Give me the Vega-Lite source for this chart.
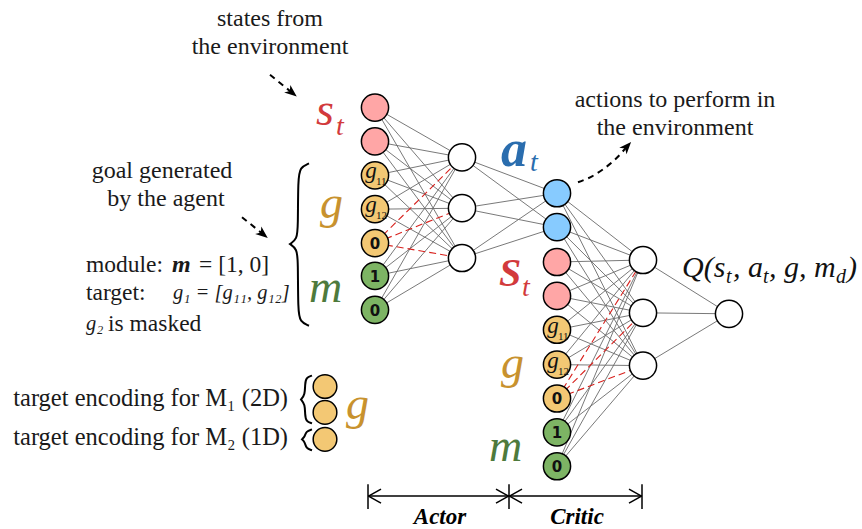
{
  "$schema": "https://vega.github.io/schema/vega-lite/v6.json",
  "width": 862,
  "height": 529,
  "padding": 0,
  "autosize": {"type": "fit", "contains": "padding"},
  "background": "white",
  "config": {"view": {"stroke": null}, "text": {"font": "Liberation Serif"}},
  "datasets": {
    "nodes": [
      {"id": "i1", "x": 375, "y": 108, "kind": "s"},
      {"id": "i2", "x": 375, "y": 142, "kind": "s"},
      {"id": "i3", "x": 375, "y": 176, "kind": "g"},
      {"id": "i4", "x": 375, "y": 210, "kind": "g"},
      {"id": "i5", "x": 375, "y": 244, "kind": "g"},
      {"id": "i6", "x": 375, "y": 277, "kind": "m"},
      {"id": "i7", "x": 375, "y": 311, "kind": "m"},
      {"id": "h1", "x": 462, "y": 158, "kind": "h"},
      {"id": "h2", "x": 462, "y": 209, "kind": "h"},
      {"id": "h3", "x": 462, "y": 259, "kind": "h"},
      {"id": "c1", "x": 557, "y": 194, "kind": "a"},
      {"id": "c2", "x": 557, "y": 228, "kind": "a"},
      {"id": "c3", "x": 557, "y": 263, "kind": "s"},
      {"id": "c4", "x": 557, "y": 297, "kind": "s"},
      {"id": "c5", "x": 557, "y": 331, "kind": "g"},
      {"id": "c6", "x": 557, "y": 366, "kind": "g"},
      {"id": "c7", "x": 557, "y": 400, "kind": "g"},
      {"id": "c8", "x": 557, "y": 434, "kind": "m"},
      {"id": "c9", "x": 557, "y": 468, "kind": "m"},
      {"id": "k1", "x": 643, "y": 261, "kind": "h"},
      {"id": "k2", "x": 643, "y": 314, "kind": "h"},
      {"id": "k3", "x": 643, "y": 367, "kind": "h"},
      {"id": "o", "x": 729, "y": 315, "kind": "h"}
    ],
    "edges": [
      {"s": "i1", "t": "h1", "m": 0}, {"s": "i1", "t": "h2", "m": 0}, {"s": "i1", "t": "h3", "m": 0},
      {"s": "i2", "t": "h1", "m": 0}, {"s": "i2", "t": "h2", "m": 0}, {"s": "i2", "t": "h3", "m": 0},
      {"s": "i3", "t": "h1", "m": 0}, {"s": "i3", "t": "h2", "m": 0}, {"s": "i3", "t": "h3", "m": 0},
      {"s": "i4", "t": "h1", "m": 0}, {"s": "i4", "t": "h2", "m": 0}, {"s": "i4", "t": "h3", "m": 0},
      {"s": "i5", "t": "h1", "m": 1}, {"s": "i5", "t": "h2", "m": 1}, {"s": "i5", "t": "h3", "m": 1},
      {"s": "i6", "t": "h1", "m": 0}, {"s": "i6", "t": "h2", "m": 0}, {"s": "i6", "t": "h3", "m": 0},
      {"s": "i7", "t": "h1", "m": 0}, {"s": "i7", "t": "h2", "m": 0}, {"s": "i7", "t": "h3", "m": 0},
      {"s": "h1", "t": "c1", "m": 0}, {"s": "h1", "t": "c2", "m": 0},
      {"s": "h2", "t": "c1", "m": 0}, {"s": "h2", "t": "c2", "m": 0},
      {"s": "h3", "t": "c1", "m": 0}, {"s": "h3", "t": "c2", "m": 0},
      {"s": "c1", "t": "k1", "m": 0}, {"s": "c1", "t": "k2", "m": 0}, {"s": "c1", "t": "k3", "m": 0},
      {"s": "c2", "t": "k1", "m": 0}, {"s": "c2", "t": "k2", "m": 0}, {"s": "c2", "t": "k3", "m": 0},
      {"s": "c3", "t": "k1", "m": 0}, {"s": "c3", "t": "k2", "m": 0}, {"s": "c3", "t": "k3", "m": 0},
      {"s": "c4", "t": "k1", "m": 0}, {"s": "c4", "t": "k2", "m": 0}, {"s": "c4", "t": "k3", "m": 0},
      {"s": "c5", "t": "k1", "m": 0}, {"s": "c5", "t": "k2", "m": 0}, {"s": "c5", "t": "k3", "m": 0},
      {"s": "c6", "t": "k1", "m": 0}, {"s": "c6", "t": "k2", "m": 0}, {"s": "c6", "t": "k3", "m": 0},
      {"s": "c7", "t": "k1", "m": 1}, {"s": "c7", "t": "k2", "m": 1}, {"s": "c7", "t": "k3", "m": 1},
      {"s": "c8", "t": "k1", "m": 0}, {"s": "c8", "t": "k2", "m": 0}, {"s": "c8", "t": "k3", "m": 0},
      {"s": "c9", "t": "k1", "m": 0}, {"s": "c9", "t": "k2", "m": 0}, {"s": "c9", "t": "k3", "m": 0},
      {"s": "k1", "t": "o", "m": 0}, {"s": "k2", "t": "o", "m": 0}, {"s": "k3", "t": "o", "m": 0}
    ]
  },
  "encoding": {
    "x": {"field": "x", "type": "quantitative", "scale": {"domain": [0, 862], "nice": false, "zero": false}, "axis": null},
    "y": {"field": "y", "type": "quantitative", "scale": {"domain": [0, 529], "nice": false, "zero": false, "reverse": true}, "axis": null}
  },
  "layer": [
    {
      "data": {"name": "edges"},
      "transform": [
        {"filter": "datum.m == 0"},
        {"lookup": "s", "from": {"data": {"name": "nodes"}, "key": "id", "fields": ["x", "y"]}},
        {"lookup": "t", "from": {"data": {"name": "nodes"}, "key": "id", "fields": ["x", "y"]}, "as": ["tx", "ty"]}
      ],
      "mark": {"type": "rule", "stroke": "#6a6a6a", "strokeWidth": 0.9},
      "encoding": {"x2": {"field": "tx"}, "y2": {"field": "ty"}}
    },
    {
      "data": {"name": "edges"},
      "transform": [
        {"filter": "datum.m == 1"},
        {"lookup": "s", "from": {"data": {"name": "nodes"}, "key": "id", "fields": ["x", "y"]}},
        {"lookup": "t", "from": {"data": {"name": "nodes"}, "key": "id", "fields": ["x", "y"]}, "as": ["tx", "ty"]}
      ],
      "mark": {"type": "rule", "stroke": "#d8211d", "strokeWidth": 1.1, "strokeDash": [7, 4]},
      "encoding": {"x2": {"field": "tx"}, "y2": {"field": "ty"}}
    },
    {
      "data": {"name": "nodes"},
      "mark": {"type": "point", "shape": "circle", "filled": true, "size": 740, "stroke": "black", "strokeWidth": 1.5, "opacity": 1},
      "encoding": {
        "fill": {"field": "kind", "type": "nominal", "legend": null,
          "scale": {"domain": ["s", "g", "m", "a", "h"], "range": ["#ffa6a6", "#f3c874", "#7db464", "#87cbff", "#ffffff"]}}
      }
    },
    {
      "data": {"values": [{"x": 325, "y": 388}, {"x": 325, "y": 414}, {"x": 325, "y": 441}]},
      "mark": {"type": "point", "shape": "circle", "filled": true, "size": 560, "stroke": "black", "strokeWidth": 1.5, "fill": "#f3c874", "opacity": 1}
    },
    {
      "data": {"values": [
        {"x": 375, "y": 244, "t": "0"}, {"x": 375, "y": 277, "t": "1"}, {"x": 375, "y": 311, "t": "0"},
        {"x": 557, "y": 400, "t": "0"}, {"x": 557, "y": 434, "t": "1"}, {"x": 557, "y": 468, "t": "0"}
      ]},
      "mark": {"type": "text", "font": "DejaVu Sans", "fontWeight": "bold", "fontSize": 15, "align": "center", "baseline": "middle", "color": "#111", "dy": 1},
      "encoding": {"text": {"field": "t"}}
    },
    {
      "data": {"values": [
        {"x": 375, "y": 176, "sub": "11"}, {"x": 375, "y": 210, "sub": "12"},
        {"x": 557, "y": 331, "sub": "11"}, {"x": 557, "y": 366, "sub": "12"}
      ]},
      "mark": {"type": "text", "font": "Liberation Serif", "fontStyle": "italic", "fontSize": 23, "align": "center", "baseline": "alphabetic", "dx": -4, "dy": 3, "color": "#111"},
      "encoding": {"text": {"value": "g"}}
    },
    {
      "data": {"values": [
        {"x": 375, "y": 176, "sub": "11"}, {"x": 375, "y": 210, "sub": "12"},
        {"x": 557, "y": 331, "sub": "11"}, {"x": 557, "y": 366, "sub": "12"}
      ]},
      "mark": {"type": "text", "font": "Liberation Serif", "fontSize": 11, "align": "left", "baseline": "alphabetic", "dx": 1, "dy": 10, "color": "#111"},
      "encoding": {"text": {"field": "sub"}}
    },
    {
      "data": {"values": [
        {"id": "main", "i": 0, "x": 309, "y": 164}, {"id": "main", "i": 1, "x": 300, "y": 168},
        {"id": "main", "i": 2, "x": 298, "y": 180}, {"id": "main", "i": 3, "x": 298, "y": 228},
        {"id": "main", "i": 4, "x": 297, "y": 240}, {"id": "main", "i": 5, "x": 290, "y": 245},
        {"id": "main", "i": 6, "x": 290, "y": 245}, {"id": "main", "i": 7, "x": 290, "y": 245},
        {"id": "main", "i": 8, "x": 297, "y": 250}, {"id": "main", "i": 9, "x": 298, "y": 262},
        {"id": "main", "i": 10, "x": 298, "y": 312}, {"id": "main", "i": 11, "x": 300, "y": 323},
        {"id": "main", "i": 12, "x": 309, "y": 327},
        {"id": "b2", "i": 0, "x": 312, "y": 377}, {"id": "b2", "i": 1, "x": 306, "y": 379},
        {"id": "b2", "i": 2, "x": 305, "y": 386}, {"id": "b2", "i": 3, "x": 305, "y": 396},
        {"id": "b2", "i": 4, "x": 301, "y": 401}, {"id": "b2", "i": 5, "x": 301, "y": 401},
        {"id": "b2", "i": 6, "x": 301, "y": 401}, {"id": "b2", "i": 7, "x": 305, "y": 406},
        {"id": "b2", "i": 8, "x": 305, "y": 416}, {"id": "b2", "i": 9, "x": 306, "y": 423},
        {"id": "b2", "i": 10, "x": 312, "y": 425},
        {"id": "b1", "i": 0, "x": 312, "y": 431}, {"id": "b1", "i": 1, "x": 306, "y": 433},
        {"id": "b1", "i": 2, "x": 305, "y": 438}, {"id": "b1", "i": 3, "x": 302, "y": 441},
        {"id": "b1", "i": 4, "x": 302, "y": 441}, {"id": "b1", "i": 5, "x": 302, "y": 441},
        {"id": "b1", "i": 6, "x": 305, "y": 444}, {"id": "b1", "i": 7, "x": 306, "y": 450},
        {"id": "b1", "i": 8, "x": 312, "y": 452}
      ]},
      "mark": {"type": "line", "interpolate": "basis", "stroke": "black", "strokeWidth": 2},
      "encoding": {"detail": {"field": "id"}, "order": {"field": "i", "type": "quantitative"}}
    },
    {
      "data": {"values": [
        {"id": "a1", "i": 0, "x": 270, "y": 75}, {"id": "a1", "i": 1, "x": 292, "y": 93},
        {"id": "a2", "i": 0, "x": 242, "y": 218}, {"id": "a2", "i": 1, "x": 263, "y": 235},
        {"id": "a3", "i": 0, "x": 578, "y": 183}, {"id": "a3", "i": 1, "x": 592, "y": 177},
        {"id": "a3", "i": 2, "x": 603, "y": 170}, {"id": "a3", "i": 3, "x": 613, "y": 162},
        {"id": "a3", "i": 4, "x": 621, "y": 154}, {"id": "a3", "i": 5, "x": 627, "y": 147}
      ]},
      "mark": {"type": "line", "interpolate": "monotone", "stroke": "black", "strokeWidth": 2, "strokeDash": [6, 5]},
      "encoding": {"detail": {"field": "id"}, "order": {"field": "i", "type": "quantitative"}}
    },
    {
      "data": {"values": [
        {"x": 292, "y": 93, "ang": 39},
        {"x": 263, "y": 235, "ang": 39},
        {"x": 627, "y": 147, "ang": -48}
      ]},
      "mark": {"type": "point", "shape": "M1,0 L-1,-0.8 L-0.45,0 L-1,0.8 Z", "filled": true, "fill": "black", "size": 150, "opacity": 1, "strokeWidth": 0},
      "encoding": {"angle": {"field": "ang", "type": "quantitative", "scale": null}}
    },
    {
      "data": {"values": [
        {"x": 368, "y": 498, "tx": 642, "ty": 498},
        {"x": 368, "y": 486, "tx": 368, "ty": 511},
        {"x": 509, "y": 486, "tx": 509, "ty": 511},
        {"x": 642, "y": 486, "tx": 642, "ty": 511},
        {"x": 381, "y": 491, "tx": 368.5, "ty": 498}, {"x": 381, "y": 505, "tx": 368.5, "ty": 498},
        {"x": 496, "y": 491, "tx": 508.5, "ty": 498}, {"x": 496, "y": 505, "tx": 508.5, "ty": 498},
        {"x": 522, "y": 491, "tx": 509.5, "ty": 498}, {"x": 522, "y": 505, "tx": 509.5, "ty": 498},
        {"x": 629, "y": 491, "tx": 641.5, "ty": 498}, {"x": 629, "y": 505, "tx": 641.5, "ty": 498}
      ]},
      "mark": {"type": "rule", "stroke": "black", "strokeWidth": 1.5},
      "encoding": {"x2": {"field": "tx"}, "y2": {"field": "ty"}}
    },
    {
      "data": {"values": [
        {"x": 440, "y": 519, "t": "Actor"},
        {"x": 577, "y": 519, "t": "Critic"}
      ]},
      "mark": {"type": "text", "font": "Liberation Serif", "fontStyle": "italic", "fontWeight": "bold", "fontSize": 23, "align": "center", "baseline": "middle", "color": "black"},
      "encoding": {"text": {"field": "t"}}
    },
    {
      "data": {"values": [
        {"x": 270, "y": 19, "t": "states from"},
        {"x": 270, "y": 47, "t": "the environment"},
        {"x": 162, "y": 172, "t": "goal generated"},
        {"x": 166, "y": 200, "t": "by the agent"},
        {"x": 675, "y": 100, "t": "actions to perform in"},
        {"x": 675, "y": 128, "t": "the environment"}
      ]},
      "mark": {"type": "text", "font": "Liberation Serif", "fontSize": 24, "align": "center", "baseline": "middle", "color": "#1a1a1a"},
      "encoding": {"text": {"field": "t"}}
    },
    {
      "data": {"values": [
        {"x": 86, "y": 266, "t": "module:"},
        {"x": 199, "y": 266, "t": "= [1, 0]"},
        {"x": 86, "y": 294, "t": "target:"},
        {"x": 108, "y": 325, "t": "is masked"}
      ]},
      "mark": {"type": "text", "font": "Liberation Serif", "fontSize": 23.5, "align": "left", "baseline": "middle", "color": "#1a1a1a"},
      "encoding": {"text": {"field": "t"}}
    },
    {
      "data": {"values": [
        {"x": 173, "y": 294, "t": "g₁ = [g₁₁, g₁₂]"},
        {"x": 86, "y": 325, "t": "g₂"}
      ]},
      "mark": {"type": "text", "font": "Liberation Serif", "fontStyle": "italic", "fontSize": 20.5, "align": "left", "baseline": "middle", "color": "#1a1a1a"},
      "encoding": {"text": {"field": "t"}}
    },
    {
      "data": {"values": [{"x": 172, "y": 266, "t": "m"}]},
      "mark": {"type": "text", "font": "Liberation Serif", "fontStyle": "italic", "fontWeight": "bold", "fontSize": 24, "align": "left", "baseline": "middle", "color": "#1a1a1a"},
      "encoding": {"text": {"field": "t"}}
    },
    {
      "data": {"values": [
        {"x": 288, "y": 401, "t": "target encoding for M₁ (2D)"},
        {"x": 288, "y": 440, "t": "target encoding for M₂ (1D)"}
      ]},
      "mark": {"type": "text", "font": "Liberation Serif", "fontSize": 24.5, "align": "right", "baseline": "middle", "color": "#1a1a1a"},
      "encoding": {"text": {"field": "t"}}
    },
    {
      "data": {"values": [
        {"x": 316, "y": 125, "t": "s", "sym": "s"},
        {"x": 320, "y": 219, "t": "g", "sym": "g"},
        {"x": 309, "y": 303, "t": "m", "sym": "m"},
        {"x": 501, "y": 379, "t": "g", "sym": "g"},
        {"x": 489, "y": 463, "t": "m", "sym": "m"},
        {"x": 346, "y": 421, "t": "g", "sym": "g"}
      ]},
      "mark": {"type": "text", "font": "Liberation Serif", "fontStyle": "italic", "fontSize": 46, "align": "left", "baseline": "alphabetic"},
      "encoding": {
        "text": {"field": "t"},
        "color": {"field": "sym", "type": "nominal", "legend": null,
          "scale": {"domain": ["s", "g", "m", "a"], "range": ["#d23a3c", "#c8922e", "#4e7a3c", "#2a6dae"]}}
      }
    },
    {
      "data": {"values": [
        {"x": 499, "y": 287, "t": "S", "sym": "s"}
      ]},
      "mark": {"type": "text", "font": "Liberation Serif", "fontStyle": "italic", "fontWeight": "bold", "fontSize": 40, "align": "left", "baseline": "alphabetic"},
      "encoding": {
        "text": {"field": "t"},
        "color": {"field": "sym", "type": "nominal", "legend": null,
          "scale": {"domain": ["s", "g", "m", "a"], "range": ["#d23a3c", "#c8922e", "#4e7a3c", "#2a6dae"]}}
      }
    },
    {
      "data": {"values": [
        {"x": 501, "y": 167, "t": "a", "sym": "a"}
      ]},
      "mark": {"type": "text", "font": "Liberation Serif", "fontStyle": "italic", "fontWeight": "bold", "fontSize": 52, "align": "left", "baseline": "alphabetic"},
      "encoding": {
        "text": {"field": "t"},
        "color": {"field": "sym", "type": "nominal", "legend": null,
          "scale": {"domain": ["s", "g", "m", "a"], "range": ["#d23a3c", "#c8922e", "#4e7a3c", "#2a6dae"]}}
      }
    },
    {
      "data": {"values": [
        {"x": 336, "y": 136, "t": "t", "sym": "s"},
        {"x": 530, "y": 172, "t": "t", "sym": "a"},
        {"x": 522, "y": 297, "t": "t", "sym": "s"}
      ]},
      "mark": {"type": "text", "font": "Liberation Serif", "fontStyle": "italic", "fontSize": 28, "align": "left", "baseline": "alphabetic"},
      "encoding": {
        "text": {"field": "t"},
        "color": {"field": "sym", "type": "nominal", "legend": null,
          "scale": {"domain": ["s", "g", "m", "a"], "range": ["#d23a3c", "#c8922e", "#4e7a3c", "#2a6dae"]}}
      }
    },
    {
      "data": {"values": [
        {"x": 682, "y": 278, "t": "Q(s"},
        {"x": 733, "y": 278, "t": ", a"},
        {"x": 769, "y": 278, "t": ", g, m"},
        {"x": 847, "y": 278, "t": ")"}
      ]},
      "mark": {"type": "text", "font": "Liberation Serif", "fontStyle": "italic", "fontSize": 30, "align": "left", "baseline": "alphabetic", "color": "#111"},
      "encoding": {"text": {"field": "t"}}
    },
    {
      "data": {"values": [
        {"x": 726, "y": 284, "t": "t"},
        {"x": 763, "y": 284, "t": "t"},
        {"x": 836, "y": 284, "t": "d"}
      ]},
      "mark": {"type": "text", "font": "Liberation Serif", "fontStyle": "italic", "fontSize": 20, "align": "left", "baseline": "alphabetic", "color": "#111"},
      "encoding": {"text": {"field": "t"}}
    }
  ]
}
